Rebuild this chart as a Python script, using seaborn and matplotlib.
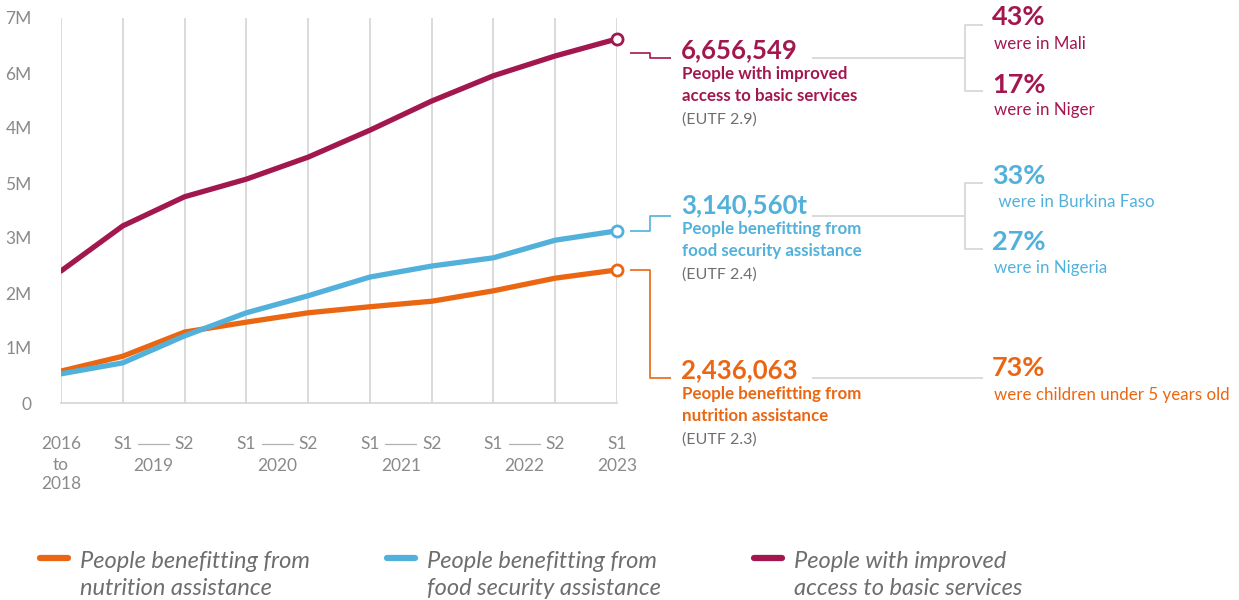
import matplotlib
matplotlib.use("Agg")
import matplotlib.pyplot as plt
import matplotlib.transforms as mtransforms
from matplotlib.lines import Line2D
import pandas as pd
import seaborn as sns

# periods: 2016-2018, then S1/S2 of 2019..2022, S1 2023
periods = list(range(10))
nutrition = [0.58, 0.85, 1.29, 1.47, 1.64, 1.75, 1.85, 2.04, 2.27, 2.42]
food_security = [0.53, 0.73, 1.22, 1.64, 1.95, 2.29, 2.49, 2.64, 2.96, 3.13]
basic_services = [2.40, 3.22, 3.75, 4.07, 4.47, 4.96, 5.49, 5.95, 6.31, 6.62]

series_names = ["People benefitting from\nnutrition assistance",
                "People benefitting from\nfood security assistance",
                "People with improved\naccess to basic services"]
colors = ["#EB6612", "#52B1DB", "#A3174F"]

ytick_vals = [0, 1, 2, 3, 4, 5, 6, 7]
ytick_labels = ["0", "1M", "2M", "3M", "5M", "4M", "6M", "7M"]
years = ["2019", "2020", "2021", "2022"]

W, H = 1239, 600
GREY = "#8a8a8a"
LIGHT = "#d4d4d4"

sns.set_theme(style="white")
plt.rcParams["font.family"] = ["Lato", "DejaVu Sans"]

df = pd.DataFrame({
    "period": periods * 3,
    "value": nutrition + food_security + basic_services,
    "series": sum([[n] * len(periods) for n in series_names], []),
})

fig = plt.figure(figsize=(W / 100, H / 100), dpi=100)
ax = fig.add_axes([61 / W, 1 - 403 / H, (617 - 61) / W, (403 - 18) / H])

for x in periods:
    ax.axvline(x, color=LIGHT, lw=1.2, zorder=0)

sns.lineplot(data=df, x="period", y="value", hue="series", palette=colors,
             hue_order=series_names, lw=3.8, ax=ax, legend=False,
             solid_capstyle="round", solid_joinstyle="round")
for vals, c in zip([nutrition, food_security, basic_services], colors):
    ax.plot(periods[-1], vals[-1], "o", ms=8, mfc="white", mec=c, mew=2,
            clip_on=False, zorder=5)

ax.set_xlim(0, 9)
ax.set_ylim(0, 7)
ax.set_yticks(ytick_vals)
ax.set_yticklabels(ytick_labels)
ax.set_xticks(periods)
ax.set_xticklabels([])
ax.tick_params(axis="y", length=0, pad=21, labelsize=12.5, labelcolor=GREY)
ax.tick_params(axis="x", length=0)
for s in ["top", "right", "left"]:
    ax.spines[s].set_visible(False)
ax.spines["bottom"].set_color(LIGHT)
ax.spines["bottom"].set_linewidth(1.2)
ax.set_xlabel("")
ax.set_ylabel("")

# x labels
tr = mtransforms.blended_transform_factory(ax.transData, fig.transFigure)
def fy(y):
    return 1 - y / H

lab_kw = dict(transform=tr, ha="center", va="center", fontsize=12.5, color=GREY)
ax.text(0, fy(444), "2016", **lab_kw)
ax.text(0, fy(465), "to", **lab_kw)
ax.text(0, fy(484), "2018", **lab_kw)
for i, yr in enumerate(years):
    x1 = 1 + 2 * i
    ax.text(x1, fy(444), "S1", **lab_kw)
    ax.text(x1 + 1, fy(444), "S2", **lab_kw)
    ax.text(x1 + 0.5, fy(466), yr, **lab_kw)
    ax.add_line(Line2D([x1 + 0.25, x1 + 0.75], [fy(444), fy(444)], transform=tr,
                       color="#b0b0b0", lw=0.9, clip_on=False))
ax.text(9, fy(444), "S1", **lab_kw)
ax.text(9, fy(466), "2023", **lab_kw)


def fline(xs, ys, color, lw=1.2, cap="butt"):
    fig.add_artist(Line2D([x / W for x in xs], [fy(y) for y in ys],
                          color=color, lw=lw, solid_capstyle=cap))


def ftext(x, y, s, color, size, weight="normal", style="normal"):
    return fig.text(x / W, fy(y), s, color=color, fontsize=size,
                    fontweight=weight, style=style, ha="left", va="center")


maroon, blue, orange = colors[2], colors[1], colors[0]

# connectors from end points to the labels
fline([630, 650, 650, 671], [53, 53, 58, 58], maroon)
fline([630, 650, 650, 671], [231, 231, 216, 216], blue)
fline([630, 650, 650, 671], [270, 270, 378, 378], orange)

# grey brackets
fline([812, 965], [58, 58], LIGHT)
fline([983, 965, 965, 983], [25, 25, 91, 91], LIGHT)
fline([812, 965], [216, 216], LIGHT)
fline([983, 965, 965, 983], [183, 183, 249, 249], LIGHT)
fline([812, 983], [378, 378], LIGHT)

# main annotations
ftext(681, 50, "6,656,549", maroon, 18.5, "bold")
ftext(682, 74, "People with improved", maroon, 12.2, "bold")
ftext(682, 96, "access to basic services", maroon, 12.2, "bold")
ftext(682, 120, "(EUTF 2.9)", "#6e6e6e", 11.5)

ftext(681, 205, "3,140,560t", blue, 18.5, "bold")
ftext(682, 229, "People benefitting from", blue, 12.2, "bold")
ftext(682, 251, "food security assistance", blue, 12.2, "bold")
ftext(682, 275, "(EUTF 2.4)", "#6e6e6e", 11.5)

ftext(681, 370, "2,436,063", orange, 18.5, "bold")
ftext(682, 394, "People benefitting from", orange, 12.2, "bold")
ftext(682, 416, "nutrition assistance", orange, 12.2, "bold")
ftext(682, 440, "(EUTF 2.3)", "#6e6e6e", 11.5)

# breakdown percentages
ftext(992, 17, "43%", maroon, 19.5, "bold")
ftext(994, 44, "were in Mali", maroon, 12.2)
ftext(992, 85, "17%", maroon, 19.5, "bold")
ftext(994, 110, "were in Niger", maroon, 12.2)

ftext(992, 176, "33%", blue, 19.5, "bold")
ftext(994, 202, " were in Burkina Faso", blue, 12.2)
ftext(992, 242, "27%", blue, 19.5, "bold")
ftext(994, 268, "were in Nigeria", blue, 12.2)

ftext(992, 368, "73%", orange, 19.5, "bold")
ftext(994, 395, "were children under 5 years old", orange, 12.2)

# legend, laid out by hand
legend_x = [38, 385, 752]
for x0, c, name in zip(legend_x, colors, series_names):
    fline([x0 + 2, x0 + 30], [558, 558], c, lw=4.5, cap="round")
    t = ftext(x0 + 42, 575, name, "#6e6e6e", 17, style="italic")
    t.set_linespacing(1.4)

fig.savefig("out.png", dpi=100, facecolor="white")
